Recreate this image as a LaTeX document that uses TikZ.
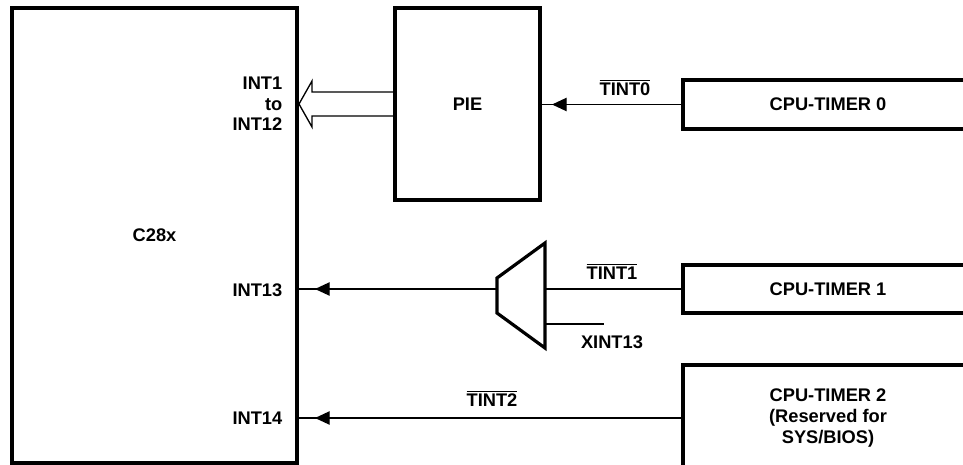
\documentclass[tikz,border=0pt]{standalone}
\usepackage{fontspec}
\setmainfont{Liberation Sans}
\usetikzlibrary{arrows.meta,decorations.markings}
\newcommand{\ovl}[1]{$\overline{\mbox{#1}}$}

\begin{document}
\begin{tikzpicture}[x=0.75pt, y=-0.75pt,
  font=\fontsize{13.7}{15.5}\selectfont\bfseries,
  blk/.style={draw, line width=2.4pt, outer sep=0pt, inner sep=0pt},
  wire/.style={line width=1pt},
  tipat/.style={wire, postaction={decorate}, decoration={markings,
    mark=at position -#1 with {\arrow{Triangle[length=11pt,width=10pt]}}}}]
\useasboundingbox (0,0) rectangle (963,464);
\clip (0,0) rectangle (963,464);
% Blocks
\node[blk, minimum width=213.75pt, minimum height=341.25pt] (c28x) at (154.5,235.5) {C28x};
\node[blk, minimum width=108.75pt, minimum height=144pt] (pie) at (467.5,104) {PIE};
\node[blk, minimum width=217.5pt, minimum height=36.75pt] (tmr0) at (828,104.5) {CPU-TIMER 0};
\node[blk, minimum width=217.5pt, minimum height=36pt] (tmr1) at (828,289) {CPU-TIMER 1};
\node[blk, minimum width=217.5pt, minimum height=79.5pt, align=center] (tmr2) at (828,418)
  {CPU-TIMER 2\\(Reserved for\\SYS/BIOS)};
% Mux
\coordinate (mxl) at (497,289);
\coordinate (mxr) at (545,289);
\coordinate (mxx) at (545,324);
\draw[line width=2.4pt, line join=miter] (497,278) -- (545,243) -- (545,348) -- (497,313) -- cycle;
% Labels on C28x
\node[anchor=east, align=right] (int1) at (287,104) {INT1\\to\\INT12};
\node[anchor=east] (int13) at (287,290) {INT13};
\node[anchor=east] (int14) at (287,418) {INT14};
% Wide arrow PIE -> C28x
\draw[wire, line join=miter] ([shift={(0,-12)}]pie.west) -- ++(-83,0) -- ++(0,-11)
  -- ++(-13,23) -- ++(13,23) -- ++(0,-11) -- ([shift={(0,12)}]pie.west);
% Timer lines
\draw[tipat=9pt] (tmr0.west) -- (tmr0.west -| pie.east);
\node[anchor=base] (tint0) at (625,95) {\ovl{TINT0}};
\draw[wire] (tmr1.west) -- (mxr);
\node[anchor=base] (tint1) at (612,279) {\ovl{TINT1}};
\draw[wire] (mxx) -- ++(59,0) coordinate (xend);
\node[anchor=base] (xint13) at (612,348) {XINT13};
\draw[tipat=13.5pt] (mxl) -- (mxl -| c28x.east);
\draw[tipat=13.5pt] (tmr2.west) -- (tmr2.west -| c28x.east);
\node[anchor=base] (tint2) at (492,406) {\ovl{TINT2}};
\end{tikzpicture}
\end{document}
